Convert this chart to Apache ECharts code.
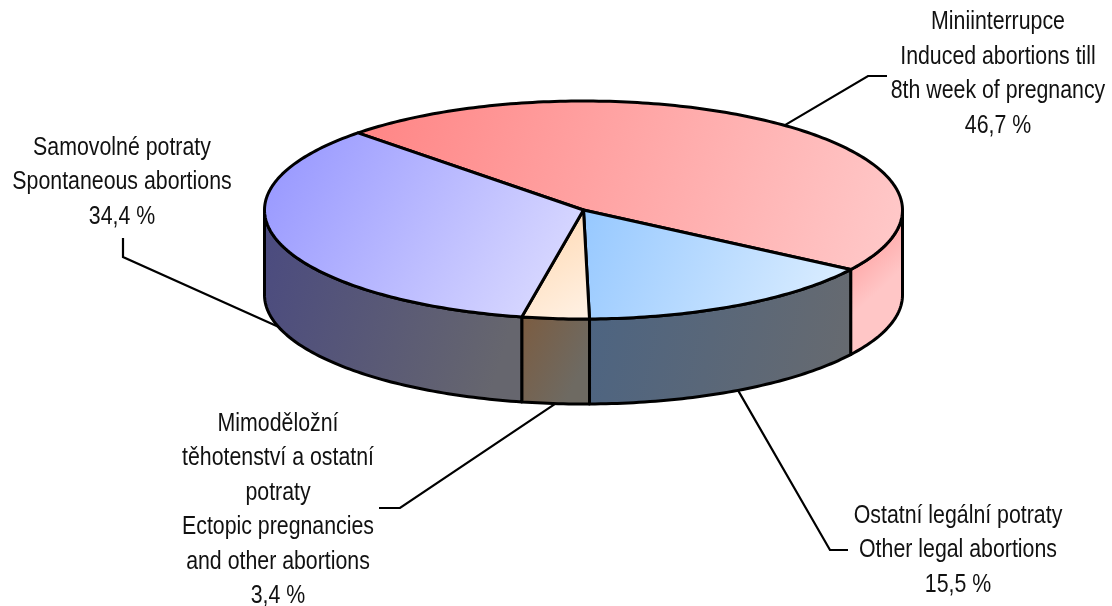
<!DOCTYPE html>
<html>
<head>
<meta charset="utf-8">
<script src="https://cdn.jsdelivr.net/npm/echarts@6/dist/echarts.min.js"></script>
<style>
  html, body { margin: 0; padding: 0; background: #fff; }
  #chart { width: 1112px; height: 606px; }
</style>
</head>
<body>
<div id="chart"></div>
<script>
  // slice data, clockwise from the upper left
  var values = [46.7, 15.5, 3.4, 34.4];
  var labelsCz = ["Miniinterrupce", "Ostatní legální potraty", "Mimoděložní\ntěhotenství a ostatní\npotraty", "Samovolné potraty"];
  var labelsEn = ["Induced abortions till\n8th week of pregnancy", "Other legal abortions", "Ectopic pregnancies\nand other abortions", "Spontaneous abortions"];

  // look of the pie
  var pie = { cx: 583.5, cy: 210, rx: 319, ry: 109, depth: 85, startAngle: 225 };
  var topColors = [["#ff8484", "#ffcaca"], ["#96c8ff", "#e0f0ff"], ["#ffd6ac", "#fff2e6"], ["#9494ff", "#e0e0ff"]];
  var sideColors = [["#ff8c8c", "#ffc6c6"], ["#4c6482", "#666a70"], ["#7c5c40", "#6e6a62"], ["#4a4a80", "#66666e"]];
  // label anchors: text block centre and the elbow of the leader line
  var labelLayout = [
    { x: 998, y: 74, elbow: [[887, 76], [868, 76]] },
    { x: 958, y: 550, elbow: [[848, 550], [830, 550]] },
    { x: 278, y: 510, elbow: [[379, 508], [400, 508]] },
    { x: 122, y: 182, elbow: [[123, 238], [123, 257]] }
  ];

  var total = values.reduce(function (a, b) { return a + b; }, 0);
  var spans = [];
  var acc = pie.startAngle;
  values.forEach(function (v) {
    var s = v / total * 360;
    spans.push([acc, acc + s]);
    acc += s;
  });

  function pt(t, dy) {
    var r = t * Math.PI / 180;
    return [pie.cx + pie.rx * Math.cos(r), pie.cy + pie.ry * Math.sin(r) + (dy || 0)];
  }

  function arc(a, b, dy) {
    var pts = [];
    var n = Math.max(2, Math.ceil(Math.abs(b - a)));
    for (var k = 0; k <= n; k++) {
      pts.push(pt(a + (b - a) * k / n, dy));
    }
    return pts;
  }

  function fmt(v) {
    return v.toFixed(1).replace(".", ",") + " %";
  }

  function grad(c, x2, y2) {
    return new echarts.graphic.LinearGradient(0, 0, x2, y2, [
      { offset: 0, color: c[0] },
      { offset: 1, color: c[1] }
    ]);
  }

  function renderSlice(params, api) {
    var i = params.dataIndex;
    var a = spans[i][0], b = spans[i][1];
    var children = [];

    // visible outer wall: front half of the ellipse
    [[0, 180], [360, 540]].forEach(function (w) {
      var s = Math.max(a, w[0]), e = Math.min(b, w[1]);
      if (e > s) {
        var pts = arc(s, e, 0).concat(arc(e, s, pie.depth));
        children.push({
          type: "polygon",
          z2: 1,
          shape: { points: pts },
          style: { fill: grad(sideColors[i], 1, 0.4), stroke: "#000", lineWidth: 3, lineJoin: "round" }
        });
      }
    });

    // top face
    children.push({
      type: "polygon",
      z2: 10,
      shape: { points: [[pie.cx, pie.cy]].concat(arc(a, b, 0)) },
      style: { fill: grad(topColors[i], 1, 1), stroke: "#000", lineWidth: 3, lineJoin: "round" }
    });

    // leader line to the middle of the slice
    var mid = (a + b) / 2;
    var front = Math.sin(mid * Math.PI / 180) > 0;
    var end = pt(mid, front ? pie.depth : 0);
    var lay = labelLayout[i];
    children.push({
      type: "polyline",
      z2: 20,
      shape: { points: lay.elbow.concat([end]) },
      style: { stroke: "#000", lineWidth: 2.2, fill: null }
    });

    children.push({
      type: "text",
      z2: 30,
      x: lay.x,
      y: lay.y,
      scaleX: 0.82,
      style: {
        text: labelsCz[i] + "\n" + labelsEn[i] + "\n" + fmt(values[i]),
        fill: "#111",
        font: "26px 'Liberation Sans', Arial, sans-serif",
        align: "center",
        verticalAlign: "middle",
        lineHeight: 34.5
      }
    });

    return { type: "group", children: children };
  }

  var chart = echarts.init(document.getElementById("chart"));
  chart.setOption({
    backgroundColor: "#fff",
    animation: false,
    series: [{
      type: "custom",
      coordinateSystem: "none",
      silent: true,
      renderItem: renderSlice,
      data: values
    }]
  });
</script>
</body>
</html>
